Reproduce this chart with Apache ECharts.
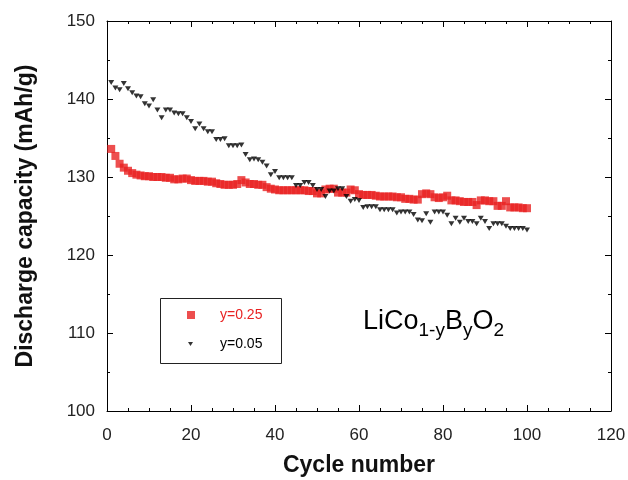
<!DOCTYPE html>
<html>
<head>
<meta charset="utf-8">
<script src="https://cdn.jsdelivr.net/npm/echarts@6/dist/echarts.min.js"></script>
<style>
html,body{margin:0;padding:0;background:#fff;}
#c{width:628px;height:480px;}
</style>
</head>
<body>
<div id="c"></div>
<script>
// Discharge capacity (mAh/g) per cycle, cycles 1..100
const capY025 = [
133.6,132.7,131.7,131.2,130.8,130.5,130.3,130.2,130.1,130.1,
130.0,130.0,130.0,129.9,129.9,129.7,129.7,129.8,129.8,129.6,
129.5,129.5,129.5,129.4,129.4,129.2,129.1,129.0,129.0,129.0,
129.1,129.6,129.3,129.1,129.1,129.0,129.0,128.7,128.5,128.4,
128.3,128.3,128.3,128.3,128.3,128.3,128.3,128.2,128.2,127.9,
127.9,128.4,128.5,128.5,128.0,128.0,128.0,128.4,128.3,127.8,
127.7,127.7,127.7,127.6,127.5,127.5,127.5,127.5,127.4,127.4,
127.2,127.2,127.1,127.1,127.8,127.9,127.8,127.4,127.3,127.4,
127.6,127.0,127.0,126.9,126.8,126.8,126.8,126.4,127.0,127.0,
126.9,126.9,126.3,126.3,126.9,126.1,126.1,126.1,126.0,126.0
];
const capY005 = [
142.1,141.4,141.2,142.0,141.3,140.8,140.4,140.3,139.4,139.1,
139.9,138.6,137.6,138.6,138.6,138.2,138.1,138.1,137.6,137.1,
136.2,136.8,136.2,135.8,135.8,134.8,134.8,134.9,134.0,134.0,
134.0,134.1,132.9,132.2,132.3,132.2,131.9,131.4,130.3,130.7,
129.9,129.9,129.9,129.9,128.9,128.9,129.3,129.3,128.9,128.4,
128.4,127.5,128.2,128.2,128.5,128.5,127.5,126.9,127.1,127.0,
126.1,126.2,126.2,126.2,125.8,125.8,125.8,125.8,125.4,125.5,
125.5,125.5,125.2,124.5,124.4,125.3,124.2,125.5,125.5,125.5,
125.1,124.0,124.7,124.2,124.7,124.3,124.3,124.0,124.7,124.3,
123.4,124.0,124.0,124.0,123.7,123.4,123.4,123.4,123.4,123.2
];
const seriesNames = ['y=0.25', 'y=0.05'];
const xTicks = [0, 20, 40, 60, 80, 100, 120];
const yTicks = [100, 110, 120, 130, 140, 150];

const toPoints = arr => arr.map((v, i) => [i + 1, v]);

const FONT = '"Liberation Sans", Arial, sans-serif';
const RED = '#e82222';
const DOWN_TRI = 'path://M0,0 L10,0 L5,8 Z';

const chart = echarts.init(document.getElementById('c'), null, {renderer: 'canvas'});

function axis(extra, showLabels, minorSplit, labelMargin) {
  return Object.assign({
    type: 'value',
    axisLine: {show: true, onZero: false, lineStyle: {color: '#000', width: 1}},
    axisTick: {show: true, inside: true, length: 6, lineStyle: {color: '#000'}},
    minorTick: {show: true, splitNumber: minorSplit, length: 3, lineStyle: {color: '#000'}},
    splitLine: {show: false},
    minorSplitLine: {show: false},
    axisLabel: {show: showLabels, color: '#222', fontSize: 17, fontFamily: FONT, margin: labelMargin}
  }, extra);
}

const option = {
  backgroundColor: '#fff',
  animation: false,
  grid: {left: 107, right: 17, top: 21, bottom: 69, outerBoundsMode: 'none', containLabel: false},
  legend: [
    {
      data: [{name: seriesNames[0], textStyle: {color: RED}}],
      left: 187, top: 308, padding: 0,
      itemWidth: 8, itemHeight: 8,
      textStyle: {fontSize: 14, fontFamily: FONT, padding: [0, 0, 0, 20]}
    },
    {
      data: [{name: seriesNames[1], icon: DOWN_TRI, textStyle: {color: '#000'}}],
      left: 188, top: 337, padding: 0,
      itemWidth: 5, itemHeight: 4,
      textStyle: {fontSize: 14, fontFamily: FONT, padding: [0, 0, 0, 22]}
    }
  ],
  xAxis: [
    axis({
      min: xTicks[0], max: xTicks[xTicks.length - 1], interval: 20,
      name: 'Cycle number', nameLocation: 'middle', nameGap: 43,
      nameTextStyle: {fontSize: 23, fontWeight: 'bold', color: '#111', fontFamily: FONT}
    }, true, 4, 16),
    axis({
      position: 'top', min: xTicks[0], max: xTicks[xTicks.length - 1], interval: 20
    }, false, 4, 8)
  ],
  yAxis: [
    axis({
      min: yTicks[0], max: yTicks[yTicks.length - 1], interval: 10,
      name: 'Discharge capacity (mAh/g)', nameLocation: 'middle', nameGap: 70,
      nameTextStyle: {fontSize: 23, fontWeight: 'bold', color: '#111', fontFamily: FONT}
    }, true, 2, 12),
    axis({
      position: 'right', min: yTicks[0], max: yTicks[yTicks.length - 1], interval: 10
    }, false, 2, 8)
  ],
  series: [
    {
      name: seriesNames[0], type: 'scatter', data: toPoints(capY025),
      symbol: 'rect', symbolSize: 8,
      itemStyle: {color: RED}, z: 3
    },
    {
      name: seriesNames[1], type: 'scatter', data: toPoints(capY005),
      symbol: DOWN_TRI, symbolSize: [6, 5],
      itemStyle: {color: '#000'}, z: 4
    }
  ],
  graphic: [
    {
      type: 'rect', left: 158, top: 296,
      shape: {width: 121, height: 65},
      style: {fill: 'none', stroke: '#222', lineWidth: 1}, z: 10
    },
    {
      type: 'text', left: 363, top: 308, z: 10,
      style: {
        text: '{n|LiCo}{s|1-y}{n|B}{s|y}{n|O}{s|2}',
        rich: {
          n: {fontSize: 27, fontFamily: FONT, color: '#111', lineHeight: 32, verticalAlign: 'top'},
          s: {fontSize: 19, fontFamily: FONT, color: '#111', lineHeight: 13, verticalAlign: 'bottom'}
        }
      }
    }
  ]
};
chart.setOption(option);
</script>
</body>
</html>
